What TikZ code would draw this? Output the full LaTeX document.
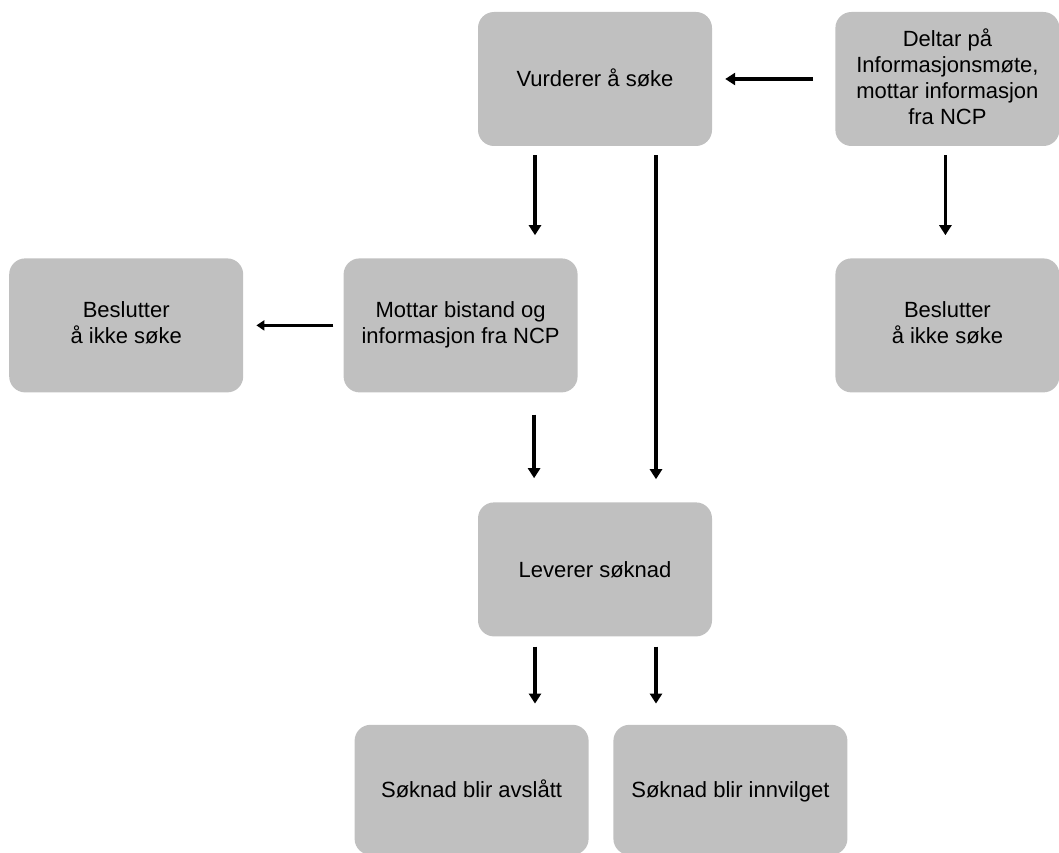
\documentclass[tikz,border=0pt]{standalone}
\usepackage{fontspec}
\setmainfont{Liberation Sans}
\usepackage{xcolor}
\usepackage{tikz}
\usetikzlibrary{arrows.meta}
\usetikzlibrary{positioning}

\definecolor{boxgray}{HTML}{C0C0C0}
\newcommand{\boxstrut}{\rule[-5pt]{0pt}{21pt}}

\tikzset{
  box/.style={fill=boxgray, rounded corners=16pt, minimum width=234pt,
    minimum height=134pt, inner sep=0pt, align=center,
    font=\fontsize{22}{26}\selectfont,
    execute at begin node=\boxstrut, execute at end node=\boxstrut},
  oneline/.style={text height=21pt, text depth=5pt},
  arr/.style={line width=3.5pt, -{Triangle[width=12pt,length=10pt]},
    shorten <=9pt, shorten >=23pt},
  thinarr/.style={line width=2.2pt, -{Triangle[width=10pt,length=8pt]},
    shorten <=10pt, shorten >=13pt}
}

\begin{document}
\begin{tikzpicture}[x=1pt,y=-1pt]
	 \useasboundingbox (0,0) rectangle (1059,853);
	 \node[box,oneline] (vurd) at (595,79) {Vurderer å søke};
	 \node[box,minimum width=224pt] (deltar) [right=123pt of vurd] {Deltar på\\Informasjonsmøte,\\mottar informasjon\\fra NCP};
	 \node[box,minimum width=224pt] (besl2) [below=112pt of deltar] {Beslutter\\å ikke søke};
	 \node[box] (mottar) [below left=112pt and -100pt of vurd] {Mottar bistand og\\informasjon fra NCP};
	 \node[box] (besl1) [left=100pt of mottar] {Beslutter\\å ikke søke};
	 \node[box,oneline] (lev) [below=356pt of vurd] {Leverer søknad};
	 \node[box,oneline,minimum height=130pt] (avsl) [below left=88pt and -111pt of lev] {Søknad blir avslått};
	 \node[box,oneline,minimum height=130pt] (innv) [below right=88pt and -99pt of lev] {Søknad blir innvilget};
	 \draw[arr,shorten <=22pt,shorten >=13pt] (deltar) -- (vurd);
	 \draw[arr] ([xshift=-60pt]vurd.south) -- ([xshift=-60pt]vurd.south |- mottar.north);
	 \draw[arr] ([xshift=61pt]vurd.south) -- ([xshift=61pt]vurd.south |- lev.north);
	 \draw[arr] ([xshift=-2pt]deltar.south) -- ([xshift=-2pt]deltar.south |- besl2.north);
	 \draw[thinarr] (mottar) -- (besl1);
	 \draw[arr,shorten <=22pt,shorten >=24pt] ([xshift=73.5pt]mottar.south) -- ([xshift=73.5pt]mottar.south |- lev.north);
	 \draw[arr,shorten <=10pt,shorten >=21pt] ([xshift=-60pt]lev.south) -- ([xshift=-60pt]lev.south |- avsl.north);
	 \draw[arr,shorten <=10pt,shorten >=21pt] ([xshift=61pt]lev.south) -- ([xshift=61pt]lev.south |- innv.north);
\end{tikzpicture}
\end{document}
